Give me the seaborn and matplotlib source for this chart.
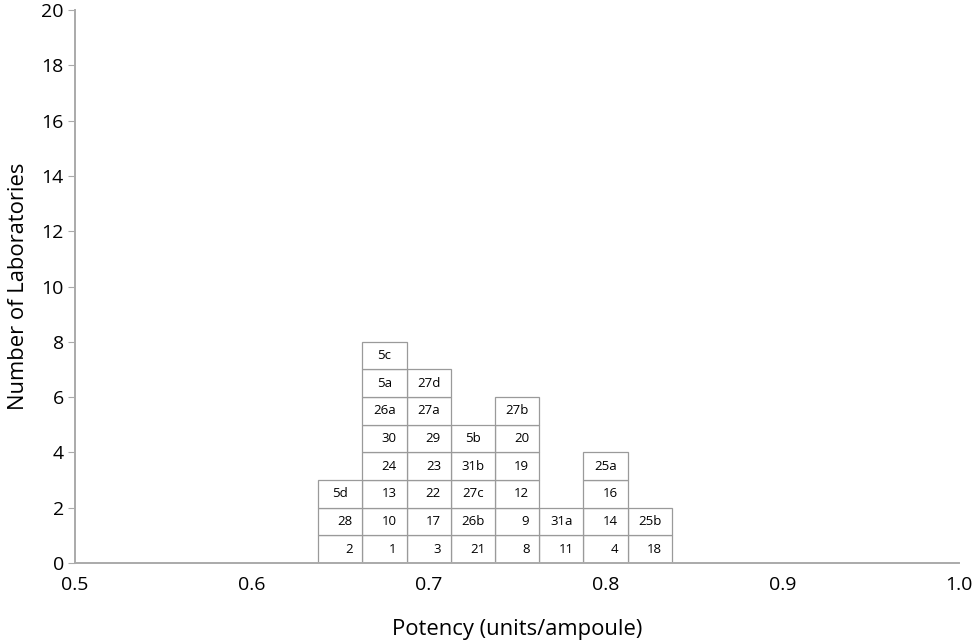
import numpy as np
import pandas as pd
import matplotlib
matplotlib.use("Agg")
import matplotlib.pyplot as plt
import seaborn as sns

# bin centres (units/ampoule) and the laboratory codes stacked in each, bottom to top
bin_centres = [0.65, 0.675, 0.7, 0.725, 0.75, 0.775, 0.8, 0.825]
bin_labs = [
    ["2", "28", "5d"],
    ["1", "10", "13", "24", "30", "26a", "5a", "5c"],
    ["3", "17", "22", "23", "29", "27a", "27d"],
    ["21", "26b", "27c", "31b", "5b"],
    ["8", "9", "12", "19", "20", "27b"],
    ["11", "31a"],
    ["4", "14", "16", "25a"],
    ["18", "25b"],
]
bin_width = 0.025

rows = []
for c, labs in zip(bin_centres, bin_labs):
    for level, lab in enumerate(labs):
        rows.append({"potency": c, "lab": lab, "level": level})
df = pd.DataFrame(rows)

sns.set_style("white")
plt.rcParams["font.family"] = ["Open Sans", "DejaVu Sans"]
plt.rcParams["text.color"] = "black"
plt.rcParams["axes.labelcolor"] = "black"

fig = plt.figure(figsize=(9.73, 6.44), dpi=100)
ax = fig.add_axes([75 / 973, 81 / 644, 884 / 973, 553 / 644])

edges = np.arange(bin_centres[0] - bin_width / 2,
                  bin_centres[-1] + bin_width, bin_width)
sns.histplot(data=df, x="potency", hue="lab", multiple="stack", bins=edges,
             palette=["white"] * df["lab"].nunique(), alpha=1,
             edgecolor="#9a9a9a", linewidth=0.9, legend=False, ax=ax)
# drop the empty (zero-height) segments the stacked hue layers leave behind
for p in list(ax.patches):
    if p.get_height() == 0:
        p.remove()

for _, r in df.iterrows():
    y = r["level"] + 0.5
    if r["lab"].isdigit():
        ax.annotate(r["lab"], (r["potency"] + bin_width / 2, y),
                    xytext=(-7, 0), textcoords="offset points",
                    ha="right", va="center", fontsize=9.5, color="black")
    else:
        ax.text(r["potency"], y, r["lab"], ha="center", va="center",
                fontsize=9.5, color="black")

ax.set_xlim(0.5, 1.0)
ax.set_ylim(0, 20)
ax.set_xticks(np.arange(0.5, 1.01, 0.1))
ax.set_xticklabels(["0.5", "0.6", "0.7", "0.8", "0.9", "1.0"])
ax.set_yticks(range(0, 21, 2))
ax.tick_params(axis="y", left=True, length=5, color="#aaaaaa",
               labelcolor="black", labelsize=14, pad=3)
ax.tick_params(axis="x", bottom=False, labelcolor="black", labelsize=14, pad=6)

for s in ["top", "right"]:
    ax.spines[s].set_visible(False)
for s in ["left", "bottom"]:
    ax.spines[s].set_color("#aaaaaa")
    ax.spines[s].set_linewidth(1.4)

ax.set_xlabel("Potency (units/ampoule)", fontsize=15.8, labelpad=18)
ax.set_ylabel("Number of Laboratories", fontsize=15.8, labelpad=9)

fig.savefig("out.png", dpi=100)
